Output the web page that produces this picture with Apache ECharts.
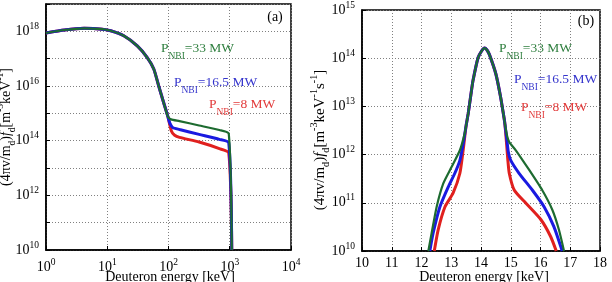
<!DOCTYPE html>
<html><head><meta charset="utf-8">
<script src="https://cdn.jsdelivr.net/npm/echarts@6/dist/echarts.min.js"></script>
<style>html,body{margin:0;padding:0;background:#fff}#c{width:612px;height:282px}</style>
</head><body><div id="c"></div><script>
// ---------- Panel (a): log-log ----------
const energyA_common = [1, 2, 4.2, 8.3, 11.4, 18.6, 30.9, 44.7, 57.5, 69.2, 83.2, 97.7];
const fdA_common = [8.7e17, 1.12e18, 1.29e18, 1.2e18, 1.05e18, 6.9e17, 2.95e17, 1.12e17, 4.2e16, 1.0e16, 2.5e15, 7.6e14];
const energyA_green = [110, 151, 316, 676, 963, 1079];
const fdA_green = [6.0e14, 5.2e14, 3.6e14, 2.45e14, 1.8e14, 1e10];
const energyA_blue = [104.7, 117.5, 151, 316, 676, 963, 1079];
const fdA_blue = [4.5e14, 3.0e14, 2.57e14, 1.7e14, 1.12e14, 8.4e13, 1e10];
const energyA_red = [112, 126, 151, 316, 676, 963, 1079];
const fdA_red = [2.2e14, 1.58e14, 1.32e14, 8.9e13, 5.1e13, 3.55e13, 1e10];

// ---------- Panel (b): linear x, log y ----------
const energyB_peak = [13.5, 13.57, 13.68, 13.73, 13.9, 14.02, 14.12, 14.2, 14.28, 14.5, 14.66, 14.77, 14.8];
const fdB_peak = [4.0e12, 7.1e12, 2.14e13, 3.4e13, 1.02e14, 1.41e14, 1.62e14, 1.48e14, 1.2e14, 4.7e13, 1.55e13, 6.0e12, 4.5e12];
const energyB_green_left = [12.23, 12.34, 12.51, 12.73, 13.01, 13.29, 13.45];
const fdB_green_left = [1e10, 2.34e10, 8.3e10, 2.5e11, 5.5e11, 1.23e12, 2.7e12];
const energyB_green_right = [14.88, 14.95, 15.17, 15.62, 16.06, 16.4, 16.62, 16.79];
const fdB_green_right = [2.4e12, 1.82e12, 1.23e12, 4.8e11, 1.82e11, 7.1e10, 2.75e10, 1e10];
const energyB_blue_left = [12.28, 12.39, 12.62, 12.9, 13.12, 13.29, 13.4];
const fdB_blue_left = [1e10, 2.34e10, 8.3e10, 2.14e11, 4.1e11, 7.6e11, 1.66e12];
const energyB_blue_right = [14.87, 14.92, 15.0, 15.28, 15.73, 16.12, 16.45, 16.73];
const fdB_blue_right = [2.0e12, 1.12e12, 7.6e11, 4.1e11, 1.82e11, 8.3e10, 3.2e10, 1e10];
const energyB_red_left = [12.43, 12.56, 12.79, 13.06, 13.29, 13.4];
const fdB_red_left = [1e10, 2.75e10, 8.3e10, 1.58e11, 4.1e11, 1.23e12];
const energyB_red_right = [14.85, 14.9, 14.95, 15.12, 15.51, 16.01, 16.34, 16.53];
const fdB_red_right = [2.0e12, 8.0e11, 4.1e11, 1.82e11, 9.8e10, 4.5e10, 2.0e10, 1e10];

const legendLabels = ['33 MW', '16.5 MW', '8 MW'];
const xTicksB = [10, 11, 12, 13, 14, 15, 16, 17, 18];

const FONT = 'Liberation Serif';
const C_GREEN = '#1d6b30', C_BLUE = '#1a1ae0', C_RED = '#e0201e';
const T_GREEN = '#2f7f3f', T_BLUE = '#3434cc', T_RED = '#e23a3a';

function zip(xs, ys) { return xs.map((x, i) => [x, ys[i]]); }

const tickRich = {
  b: { fontFamily: FONT, fontSize: 14, lineHeight: 20, verticalAlign: 'middle', color: '#000' },
  t: { fontFamily: FONT, fontSize: 9.5, lineHeight: 8, verticalAlign: 'top', color: '#000' }
};
function powLabel(v) {
  const e = Math.round(Math.log10(v));
  return '{b|10}{t|' + e + '}';
}
function powLabelEven(v) {
  const e = Math.round(Math.log10(v));
  if (e % 2 !== 0) return '';
  return '{b|10}{t|' + e + '}';
}

const gridLine = { show: true, lineStyle: { color: '#808080', type: [1, 2], width: 1 } };
const axLine = { show: true, lineStyle: { color: '#000', width: 1.5 } };
const axTick = { show: true, inside: true, length: 4, lineStyle: { color: '#000', width: 1 } };

function lineSeries(name, xi, data, color, width, z) {
  return {
    name, type: 'line', xAxisIndex: xi, yAxisIndex: xi, data,
    showSymbol: false, smooth: 0.2, z,
    lineStyle: { color, width }, itemStyle: { color }
  };
}

const seriesA = [
  lineSeries('8 MW (a)', 0, zip(energyA_common.concat(energyA_red), fdA_common.concat(fdA_red)), C_RED, 3, 2),
  lineSeries('16.5 MW (a)', 0, zip(energyA_common.concat(energyA_blue), fdA_common.concat(fdA_blue)), C_BLUE, 3, 3),
  lineSeries('33 MW (a)', 0, zip(energyA_common.concat(energyA_green), fdA_common.concat(fdA_green)), C_GREEN, 2.2, 4)
];
const seriesB = [
  lineSeries('8 MW (b)', 1, zip(energyB_red_left.concat(energyB_peak, energyB_red_right), fdB_red_left.concat(fdB_peak, fdB_red_right)), C_RED, 3, 2),
  lineSeries('16.5 MW (b)', 1, zip(energyB_blue_left.concat(energyB_peak, energyB_blue_right), fdB_blue_left.concat(fdB_peak, fdB_blue_right)), C_BLUE, 3, 3),
  lineSeries('33 MW (b)', 1, zip(energyB_green_left.concat(energyB_peak, energyB_green_right), fdB_green_left.concat(fdB_peak, fdB_green_right)), C_GREEN, 2.2, 4)
];

const legRich = (c) => ({
  p: { fontFamily: FONT, fontSize: 13.5, lineHeight: 26, verticalAlign: 'middle', fill: c },
  s: { fontFamily: FONT, fontSize: 9.5, lineHeight: 10, verticalAlign: 'bottom', fill: c }
});
function legendText(x, y, label, c) {
  return { type: 'text', x, y, z: 100,
    style: { text: '{p|P}{s|NBI}{p|=' + label + '}', rich: legRich(c), fill: c, align: 'left', verticalAlign: 'middle' } };
}
const nameRich = (fs) => ({
  n: { fontFamily: FONT, fontSize: fs, lineHeight: 22, verticalAlign: 'middle', fill: '#000' },
  i: { fontFamily: FONT, fontSize: fs, fontStyle: 'italic', lineHeight: 22, verticalAlign: 'middle', fill: '#000' },
  s: { fontFamily: FONT, fontSize: fs * 0.68, lineHeight: 9, verticalAlign: 'bottom', fill: '#000' },
  t: { fontFamily: FONT, fontSize: fs * 0.68, lineHeight: 8, verticalAlign: 'top', fill: '#000' }
});

const option = {
  animation: false,
  backgroundColor: '#fff',
  grid: [
    { left: 46, right: 321, top: 4, bottom: 32, show: true, borderColor: '#000', borderWidth: 1.5, backgroundColor: 'transparent' },
    { left: 362, right: 12, top: 9, bottom: 31, show: true, borderColor: '#000', borderWidth: 1.5, backgroundColor: 'transparent' }
  ],
  xAxis: [
    { type: 'log', logBase: 10, gridIndex: 0, min: 1, max: 1e4,
      axisLine: axLine, axisTick: axTick, splitLine: gridLine, minorTick: { show: false },
      axisLabel: { formatter: powLabel, rich: tickRich, margin: 7 } },
    { type: 'value', gridIndex: 1, min: xTicksB[0], max: xTicksB[xTicksB.length - 1], interval: 1,
      axisLine: axLine, axisTick: axTick, splitLine: gridLine,
      axisLabel: { fontFamily: FONT, fontSize: 14, color: '#000', margin: 5 } }
  ],
  yAxis: [
    { type: 'log', logBase: 10, gridIndex: 0, min: 1e10, max: 1e19,
      axisLine: axLine, axisTick: axTick, splitLine: gridLine,
      axisLabel: { formatter: powLabelEven, rich: tickRich, margin: 7 } },
    { type: 'log', logBase: 10, gridIndex: 1, min: 1e10, max: 1e15,
      axisLine: axLine, axisTick: axTick, splitLine: gridLine,
      axisLabel: { formatter: powLabel, rich: tickRich, margin: 7 } }
  ],
  series: seriesA.concat(seriesB),
  graphic: [
    legendText(161, 48, legendLabels[0], T_GREEN),
    legendText(174, 82, legendLabels[1], T_BLUE),
    legendText(209, 104, legendLabels[2], T_RED),
    legendText(499, 48, legendLabels[0], T_GREEN),
    legendText(514, 79, legendLabels[1], T_BLUE),
    legendText(521, 107, legendLabels[2], T_RED),
    { type: 'text', x: 275, y: 17.5, style: { text: '(a)', fontFamily: FONT, fontSize: 14, fill: '#000', align: 'center', verticalAlign: 'middle' } },
    { type: 'text', x: 586, y: 21.5, style: { text: '(b)', fontFamily: FONT, fontSize: 14, fill: '#000', align: 'center', verticalAlign: 'middle' } },
    { type: 'text', x: 170, y: 277, style: { text: 'Deuteron energy [keV]', fontFamily: FONT, fontSize: 14, fill: '#000', align: 'center', verticalAlign: 'middle' } },
    { type: 'text', x: 484, y: 277, style: { text: 'Deuteron energy [keV]', fontFamily: FONT, fontSize: 14, fill: '#000', align: 'center', verticalAlign: 'middle' } },
    { type: 'text', x: 6, y: 127, rotation: Math.PI / 2,
      style: { text: '{n|(4πv/m}{s|d}{n|)}{i|f}{s|d}{n|[m}{t|-3}{n|keV}{t|-1}{n|]}', rich: nameRich(14), align: 'center', verticalAlign: 'middle' } },
    { type: 'text', x: 320, y: 140, rotation: Math.PI / 2,
      style: { text: '{n|(4πv/m}{s|d}{n|)}{i|f}{s|d}{n|[m}{t|-3}{n|keV}{t|-1}{n|s}{t|-1}{n|]}', rich: nameRich(15), align: 'center', verticalAlign: 'middle' } }
  ]
};

const chart = echarts.init(document.getElementById('c'), null, { renderer: 'canvas' });
chart.setOption(option);
</script></body></html>
